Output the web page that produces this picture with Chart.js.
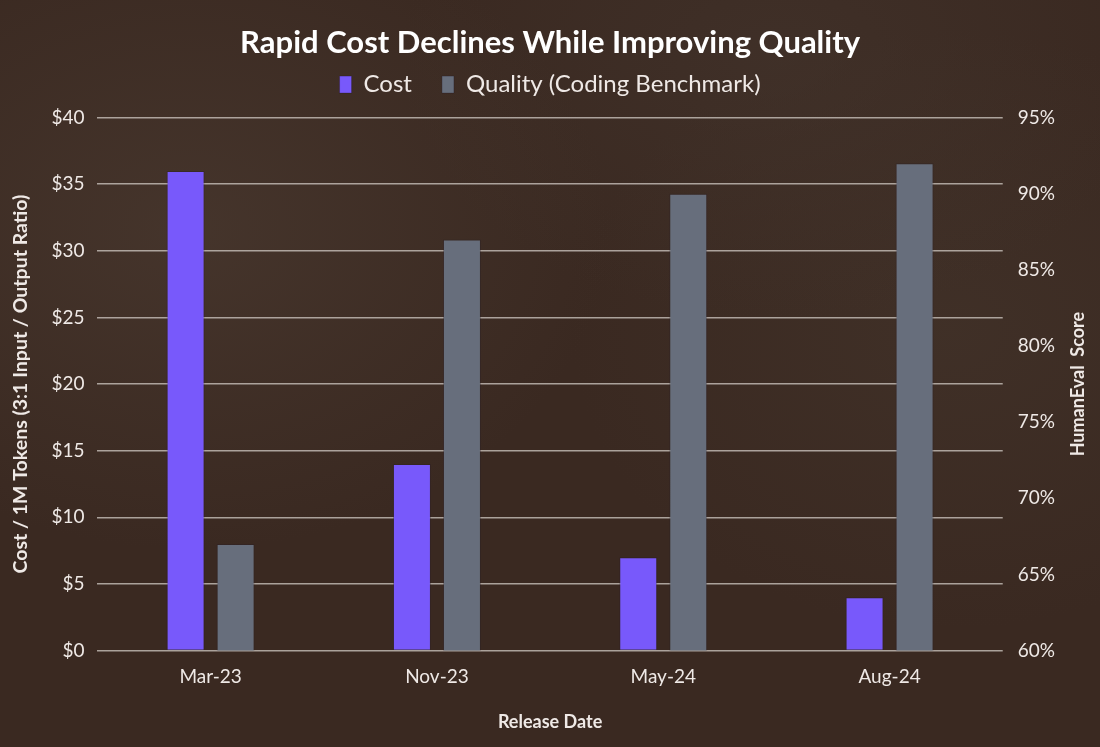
<!DOCTYPE html>
<html>
<head>
<meta charset="utf-8">
<script src="https://cdn.jsdelivr.net/npm/chart.js@4"></script>
<style>
  html, body { margin: 0; padding: 0; }
  body {
    width: 1100px;
    height: 747px;
    background:
      radial-gradient(ellipse 420px 320px at 190px 230px, rgba(78, 62, 52, 0.55), rgba(78, 62, 52, 0) 100%),
      radial-gradient(ellipse 380px 260px at 780px 60px, rgba(70, 56, 48, 0.45), rgba(70, 56, 48, 0) 100%),
      radial-gradient(ellipse 380px 300px at 950px 330px, rgba(72, 58, 48, 0.4), rgba(72, 58, 48, 0) 100%),
      #3a2921;
  }
  #wrap { width: 1100px; height: 747px; }
</style>
</head>
<body>
<div id="wrap"><canvas id="chart"></canvas></div>
<script>
// Данные графика
const categories = ["Mar-23", "Nov-23", "May-24", "Aug-24"];
const costValues = [36, 14, 7, 4];
const qualityValues = [67, 87, 90, 92];
const costTicks = [0, 5, 10, 15, 20, 25, 30, 35, 40];
const qualityTicks = [60, 65, 70, 75, 80, 85, 90, 95];

const textColor = "#efe9e6";
const tickFont = { family: "Lato", size: 19 };
const rightTitle = "HumanEval  Score";

// Заголовок правой оси, повернутый снизу вверх (как левый)
const rightTitlePlugin = {
  id: "rightTitle",
  afterDraw(chart) {
    const { ctx, chartArea } = chart;
    ctx.save();
    ctx.translate(chart.width - 22, (chartArea.top + chartArea.bottom) / 2);
    ctx.rotate(-Math.PI / 2);
    ctx.fillStyle = textColor;
    ctx.font = "bold 18px Lato";
    ctx.textAlign = "center";
    ctx.textBaseline = "middle";
    ctx.fillText(rightTitle, 0, 0);
    ctx.restore();
  },
};

// Добавляем немного места под легендой
const legendSpacePlugin = {
  id: "legendSpace",
  beforeInit(chart) {
    const origFit = chart.legend.fit;
    chart.legend.fit = function () {
      origFit.bind(chart.legend)();
      this.height += 11;
    };
  },
};

const ctx = document.getElementById("chart").getContext("2d");

new Chart(ctx, {
  type: "bar",
  data: {
    labels: categories,
    datasets: [
      {
        label: "Cost",
        data: costValues,
        yAxisID: "y",
        backgroundColor: "#7859fb",
        borderColor: "rgba(40, 30, 40, 0.35)",
        borderWidth: 1,
        categoryPercentage: 0.442,
        barPercentage: 0.76,
      },
      {
        label: "Quality (Coding Benchmark)",
        data: qualityValues,
        yAxisID: "y1",
        backgroundColor: "#676e7c",
        borderColor: "rgba(40, 30, 40, 0.35)",
        borderWidth: 1,
        categoryPercentage: 0.442,
        barPercentage: 0.76,
      },
    ],
  },
  plugins: [rightTitlePlugin, legendSpacePlugin],
  options: {
    responsive: true,
    maintainAspectRatio: false,
    animation: false,
    layout: {
      padding: { top: 0, left: 5, right: 30, bottom: 10 },
    },
    plugins: {
      title: {
        display: true,
        fullSize: false,
        text: "Rapid Cost Declines While Improving Quality",
        color: "#ffffff",
        font: { family: "Lato", size: 31, weight: "bold" },
        padding: { top: 24, bottom: -18.6 },
      },
      legend: {
        display: true,
        fullSize: false,
        labels: {
          color: textColor,
          font: { family: "Lato", size: 24 },
          boxWidth: 12,
          boxHeight: 17,
          padding: 30,
        },
      },
      tooltip: { enabled: false },
    },
    scales: {
      x: {
        grid: { display: false },
        border: { display: false },
        ticks: { color: textColor, font: tickFont, padding: 7 },
        title: {
          display: true,
          text: "Release Date",
          color: textColor,
          font: { family: "Lato", size: 18, weight: "bold" },
          padding: { top: 16 },
        },
      },
      y: {
        position: "left",
        min: 0,
        max: 40,
        afterBuildTicks: (axis) => {
          axis.ticks = costTicks.map((v) => ({ value: v }));
        },
        grid: { color: "rgba(200, 192, 186, 0.8)", lineWidth: 1.5, drawTicks: false },
        border: { display: false },
        ticks: {
          color: textColor,
          font: tickFont,
          padding: 13,
          callback: (value) => `$${value}`,
        },
        title: {
          display: true,
          text: "Cost / 1M Tokens (3:1 Input / Output Ratio)",
          color: textColor,
          font: { family: "Lato", size: 19.5, weight: "bold" },
          padding: { bottom: 6 },
        },
      },
      y1: {
        position: "right",
        min: 60,
        max: 95,
        afterBuildTicks: (axis) => {
          axis.ticks = qualityTicks.map((v) => ({ value: v }));
        },
        grid: { display: false, drawTicks: false },
        border: { display: false },
        ticks: {
          color: textColor,
          font: tickFont,
          padding: 15,
          callback: (value) => `${value}%`,
        },
      },
    },
  },
});
</script>
</body>
</html>
